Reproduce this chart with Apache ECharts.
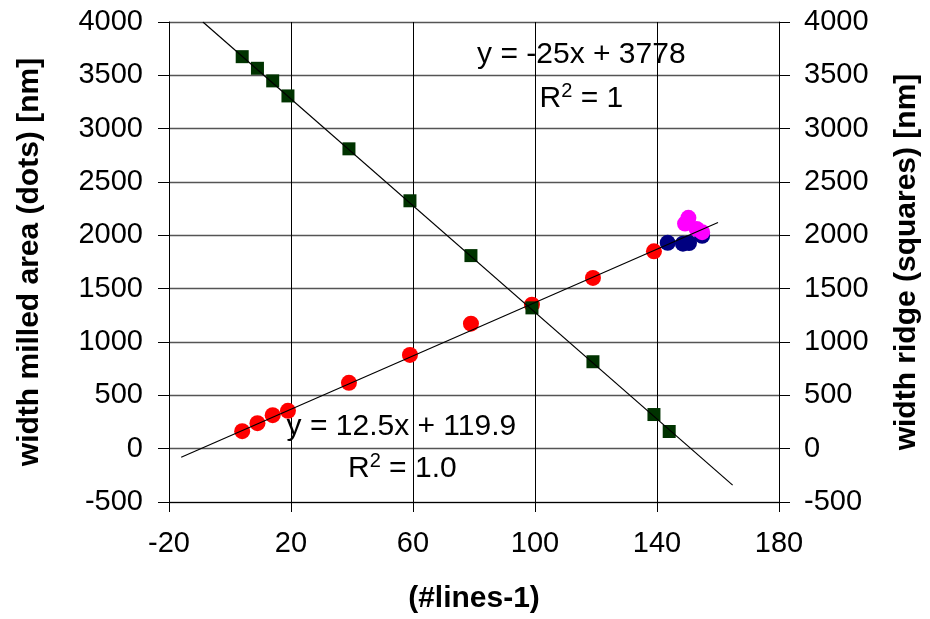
<!DOCTYPE html>
<html>
<head>
<meta charset="utf-8">
<script src="https://cdn.jsdelivr.net/npm/echarts@6/dist/echarts.min.js"></script>
<style>
  html, body { margin: 0; padding: 0; background: #fff; }
  #chart { width: 930px; height: 619px; }
</style>
</head>
<body>
<div id="chart"></div>
<script>
// Milled area width (dots, left axis) vs (#lines-1)
const dotLines = [4, 9, 14, 19, 39, 59, 79, 99, 119, 139];
const dotWidth = [164, 239, 314, 355, 617, 879, 1172, 1350, 1601, 1850];

// Ridge width (squares, right axis) vs (#lines-1)
const squareLines = [4, 9, 14, 19, 39, 59, 79, 99, 119, 139, 144];
const squareWidth = [3675, 3566, 3448, 3307, 2811, 2324, 1810, 1320, 815, 320, 161];

// Extra milled-area measurements near the end of the range
const navyLines = [143.5, 148.5, 150.5, 154.8];
const navyWidth = [1930, 1922, 1928, 1995];
const magentaLines = [149.2, 150.3, 153, 154.8];
const magentaWidth = [2110, 2164, 2060, 2030];

// Axis ticks
const xTicks = [-20, 20, 60, 100, 140, 180];
const yTicks = [-500, 0, 500, 1000, 1500, 2000, 2500, 3000, 3500, 4000];

// Linear fits, as printed on the chart
const dotFit = { slope: 12.5, intercept: 119.9, r2: '1.0', from: -16, to: 160 };
const squareFit = { slope: -25, intercept: 3778, r2: '1', from: -8.88, to: 164.8 };

const FONT = '"Liberation Sans", Arial, sans-serif';

const pair = (xs, ys) => xs.map((x, i) => [x, ys[i]]);
const fitLine = f => [f.from, f.to].map(x => [x, f.slope * x + f.intercept]);

const chart = echarts.init(document.getElementById('chart'), null, { renderer: 'canvas' });

const yAxisCommon = {
  type: 'value',
  min: yTicks[0],
  max: yTicks[yTicks.length - 1],
  interval: yTicks[1] - yTicks[0],
  nameLocation: 'middle',
  nameRotate: 90,
  nameTextStyle: { fontFamily: FONT, fontSize: 30, fontWeight: 'bold', color: '#000' },
  axisLine: { show: true, onZero: false, lineStyle: { color: '#000', width: 1 } },
  axisTick: { show: true, inside: false, length: 11, lineStyle: { color: '#000' } },
  axisLabel: { fontFamily: FONT, fontSize: 29, color: '#000', formatter: v => String(v) }
};

chart.setOption({
  animation: false,
  backgroundColor: '#fff',
  grid: { left: 169, right: 147, top: 22, bottom: 116, containLabel: false },
  xAxis: {
    type: 'value',
    min: xTicks[0],
    max: xTicks[xTicks.length - 1],
    interval: xTicks[1] - xTicks[0],
    name: '(#lines-1)',
    nameLocation: 'middle',
    nameGap: 82,
    nameTextStyle: { fontFamily: FONT, fontSize: 30, fontWeight: 'bold', color: '#000' },
    axisLine: { show: true, onZero: false, lineStyle: { color: '#000', width: 1 } },
    axisTick: { show: true, inside: false, length: 10, lineStyle: { color: '#000' } },
    axisLabel: { fontFamily: FONT, fontSize: 29, color: '#000', margin: 27, formatter: v => String(v) },
    splitLine: { show: true, lineStyle: { color: '#000', width: 1 } }
  },
  yAxis: [
    Object.assign({}, yAxisCommon, {
      position: 'left',
      name: 'width milled area (dots) [nm]',
      nameGap: 124,
      axisLabel: Object.assign({}, yAxisCommon.axisLabel, { margin: 26 }),
      splitLine: { show: true, lineStyle: { color: '#555', width: 1.4 } }
    }),
    Object.assign({}, yAxisCommon, {
      position: 'right',
      name: 'width ridge (squares) [nm]',
      nameGap: 113,
      axisLabel: Object.assign({}, yAxisCommon.axisLabel, { margin: 25 }),
      splitLine: { show: false }
    })
  ],
  series: [
    {
      type: 'scatter', name: 'dots', yAxisIndex: 0, z: 2,
      symbol: 'circle', symbolSize: 16,
      itemStyle: { color: '#ff0000', opacity: 1 },
      data: pair(dotLines, dotWidth)
    },
    {
      type: 'scatter', name: 'dots navy', yAxisIndex: 0, z: 2,
      symbol: 'circle', symbolSize: 16,
      itemStyle: { color: '#000080', opacity: 1 },
      data: pair(navyLines, navyWidth)
    },
    {
      type: 'scatter', name: 'dots magenta', yAxisIndex: 0, z: 2,
      symbol: 'circle', symbolSize: 16,
      itemStyle: { color: '#ff00ff', opacity: 1 },
      data: pair(magentaLines, magentaWidth)
    },
    {
      type: 'scatter', name: 'squares', yAxisIndex: 1, z: 3,
      symbol: 'rect', symbolSize: 13,
      itemStyle: { color: '#003300', opacity: 1 },
      data: pair(squareLines, squareWidth)
    },
    {
      type: 'line', name: 'dot fit', yAxisIndex: 0, z: 4,
      symbol: 'none', silent: true,
      lineStyle: { color: '#000', width: 1.2 },
      data: fitLine(dotFit)
    },
    {
      type: 'line', name: 'square fit', yAxisIndex: 1, z: 4,
      symbol: 'none', silent: true,
      lineStyle: { color: '#000', width: 1.2 },
      data: fitLine(squareFit)
    }
  ]
});

// Fit equations and R² labels, anchored in data coordinates
function eqText(f) {
  const sign = f.intercept < 0 ? '-' : '+';
  return 'y = ' + f.slope + 'x ' + sign + ' ' + Math.abs(f.intercept);
}
const richStyle = {
  b: { fontFamily: FONT, fontSize: 30, color: '#000', lineHeight: 34 },
  s: { fontFamily: FONT, fontSize: 20, color: '#000', verticalAlign: 'top', lineHeight: 14 }
};
function label(pt, text) {
  const p = chart.convertToPixel({ xAxisIndex: 0, yAxisIndex: 0 }, pt);
  return {
    type: 'text', x: p[0], y: p[1], z: 10,
    style: { text: text, rich: richStyle, align: 'center', verticalAlign: 'middle' }
  };
}
chart.setOption({
  graphic: [
    label([115.2, 3690], '{b|' + eqText(squareFit) + '}'),
    label([115.2, 3280], '{b|R}{s|2}{b| = ' + squareFit.r2 + '}'),
    label([56.2, 205], '{b|' + eqText(dotFit) + '}'),
    label([56.5, -190], '{b|R}{s|2}{b| = ' + dotFit.r2 + '}')
  ]
});
</script>
</body>
</html>
